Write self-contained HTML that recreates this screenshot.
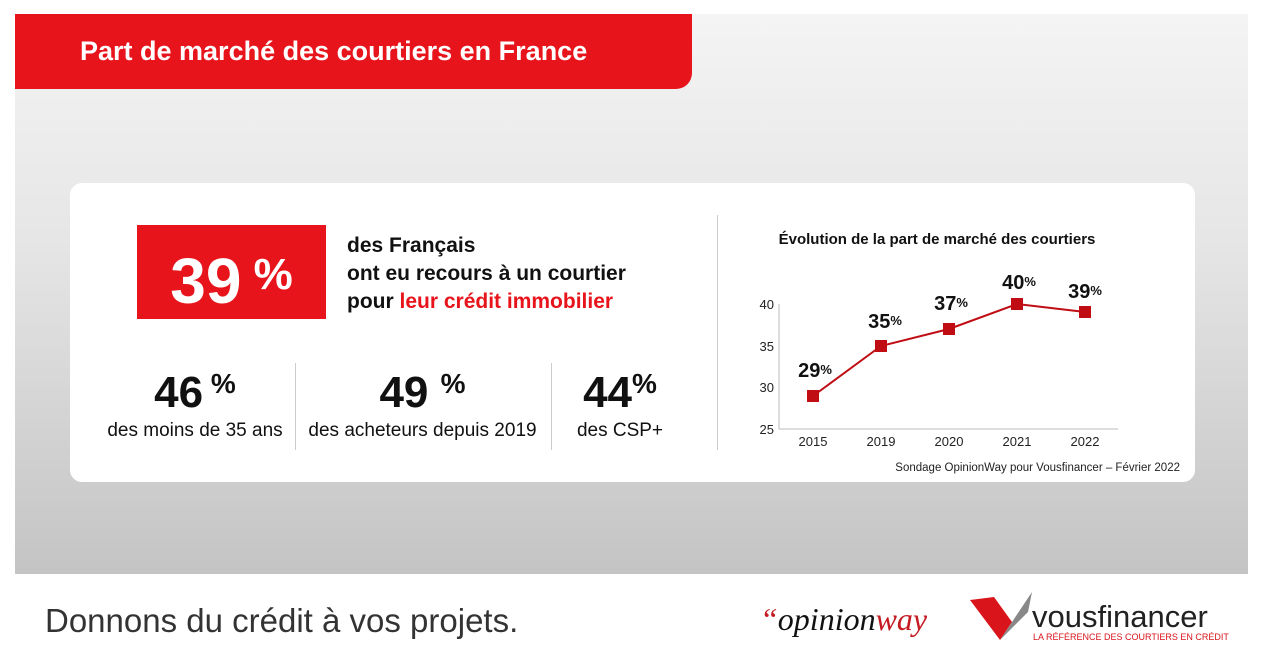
<!DOCTYPE html>
<html><head><meta charset="utf-8"><style>
body{margin:0;width:1263px;height:663px;background:#fff;position:relative;overflow:hidden;font-family:"Liberation Sans",sans-serif}
.bg{position:absolute;left:15px;top:14px;width:1233px;height:560px;background:linear-gradient(180deg,#f4f4f4 0%,#e6e6e6 40%,#d2d2d2 75%,#c4c4c4 100%)}
.hdr{position:absolute;left:15px;top:14px;width:677px;height:75px;background:#e8141b;border-bottom-right-radius:16px;color:#fff;font-weight:bold;font-size:27px;line-height:75px;padding-left:65px;box-sizing:border-box}
.card{position:absolute;left:70px;top:183px;width:1125px;height:299px;background:#fff;border-radius:12px}
.big{position:absolute;left:137px;top:225px;width:189px;height:94px;background:#e8141b;color:#fff;font-weight:bold;font-size:64px;line-height:100px;text-align:center}
.big span{font-size:44px;vertical-align:14px}
.t{position:absolute;font-weight:bold;color:#111}
.n{position:absolute;font-weight:bold;font-size:44px;color:#111;text-align:center}
.n span{font-size:28px;vertical-align:14px}
.s{position:absolute;font-size:19px;color:#111;text-align:center}
.vl{position:absolute;width:1px;background:#ccc}
</style></head><body>
<div class="bg"></div>
<div class="hdr">Part de marché des courtiers en France</div>
<div class="card"></div>
<div class="big">39<span> %</span></div>
<div class="t" style="left:347px;top:232px;font-size:21px;line-height:28px">des Français<br>ont eu recours à un courtier<br>pour <span style="color:#e8141b">leur crédit immobilier</span></div>
<div class="vl" style="left:717px;top:215px;height:235px"></div>
<div class="vl" style="left:295px;top:363px;height:87px"></div>
<div class="vl" style="left:551px;top:363px;height:87px"></div>
<div class="n" style="left:100px;top:368px;width:190px">46<span> %</span></div>
<div class="s" style="left:100px;top:420px;width:190px">des moins de 35 ans</div>
<div class="n" style="left:300px;top:368px;width:245px">49 <span>%</span></div>
<div class="s" style="left:300px;top:420px;width:245px">des acheteurs depuis 2019</div>
<div class="n" style="left:560px;top:368px;width:120px">44<span>%</span></div>
<div class="s" style="left:560px;top:420px;width:120px">des CSP+</div>
<svg style="position:absolute;left:0;top:0" width="1263" height="663">
<text x="937" y="244" text-anchor="middle" font-size="15" font-weight="bold" fill="#111">Évolution de la part de marché des courtiers</text>
<g font-size="13" fill="#222" text-anchor="end">
<text x="774" y="309">40</text><text x="774" y="351">35</text><text x="774" y="392">30</text><text x="774" y="434">25</text></g>
<line x1="779" y1="304" x2="779" y2="429" stroke="#bbb"/>
<line x1="779" y1="429" x2="1118" y2="429" stroke="#bbb"/>
<g font-size="13" fill="#222" text-anchor="middle">
<text x="813" y="446">2015</text><text x="881" y="446">2019</text><text x="949" y="446">2020</text><text x="1017" y="446">2021</text><text x="1085" y="446">2022</text></g>
<polyline points="813,396 881,346 949,329 1017,304 1085,312" fill="none" stroke="#c00d14" stroke-width="2"/>
<g fill="#c00d14"><rect x="807" y="390" width="12" height="12"/><rect x="875" y="340" width="12" height="12"/><rect x="943" y="323" width="12" height="12"/><rect x="1011" y="298" width="12" height="12"/><rect x="1079" y="306" width="12" height="12"/></g>
<g font-weight="bold" fill="#111" font-size="20" text-anchor="middle">
<text x="815" y="377">29<tspan font-size="13" dy="-3">%</tspan></text>
<text x="885" y="328">35<tspan font-size="13" dy="-3">%</tspan></text>
<text x="951" y="310">37<tspan font-size="13" dy="-3">%</tspan></text>
<text x="1019" y="289">40<tspan font-size="13" dy="-3">%</tspan></text>
<text x="1085" y="298">39<tspan font-size="13" dy="-3">%</tspan></text></g>
<text x="1180" y="471" text-anchor="end" font-size="11.5" fill="#222">Sondage OpinionWay pour Vousfinancer – Février 2022</text>
<text x="45" y="632" font-size="33" fill="#333">Donnons du crédit à vos projets.</text>
<text x="760" y="630" font-family="Liberation Serif" font-style="italic" font-size="32" fill="#111"><tspan fill="#c41a22">“</tspan>opinion<tspan fill="#c41a22">way</tspan></text>
<path d="M970 600 L994 597 L1012 622 L1000 640 Z" fill="#d9141b"/>
<path d="M1000 640 L1012 622 L1032 592 L1028 612 Z" fill="#888"/>
<text x="1032" y="627" font-size="31" fill="#222">vousfinancer</text>
<text x="1033" y="640" font-size="9" fill="#d9141b">LA RÉFÉRENCE DES COURTIERS EN CRÉDIT</text>
</svg>
</body></html>
